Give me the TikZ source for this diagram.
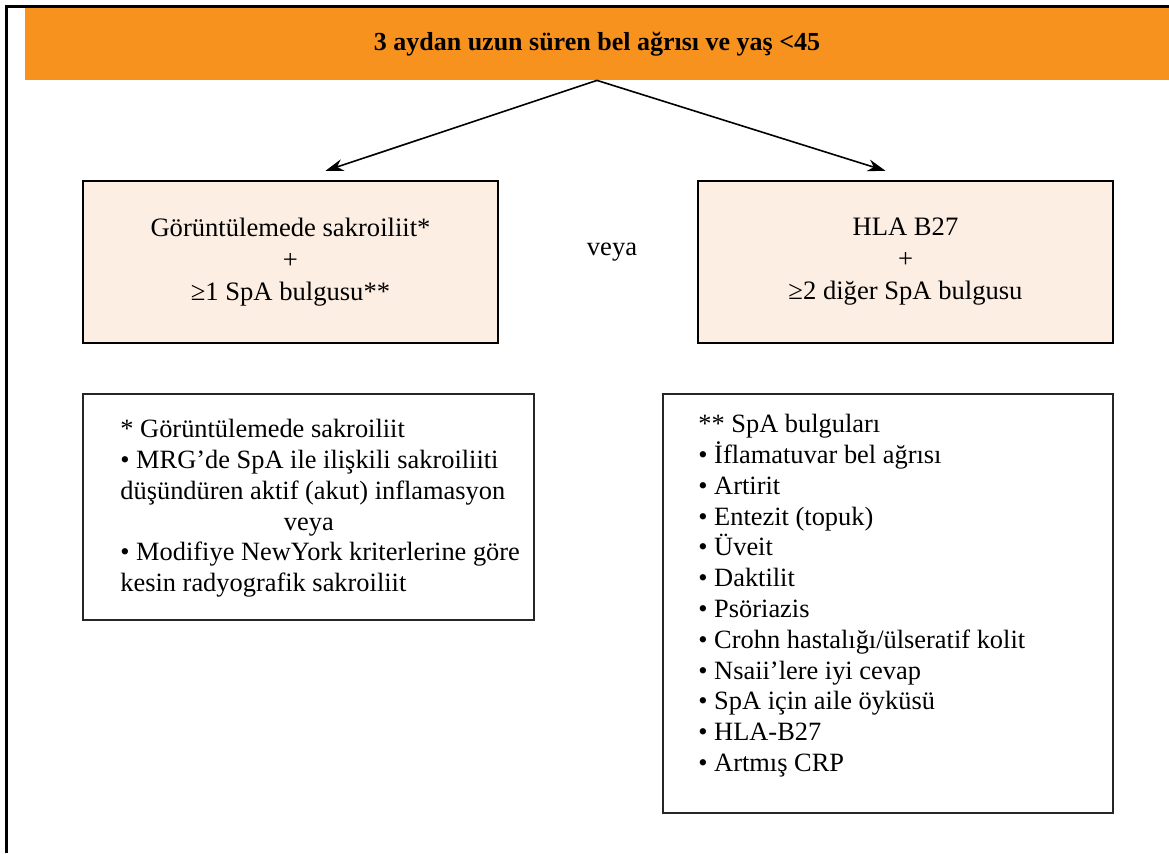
\documentclass[tikz,border=0pt]{standalone}
\usepackage{fontspec}
\setmainfont{Liberation Serif}
\usetikzlibrary{arrows.meta}

\definecolor{barorange}{HTML}{F7921E}
\definecolor{boxpeach}{HTML}{FDEEE3}

\tikzset{
	critbox/.style={draw=black, line width=1.2pt, fill=boxpeach, minimum width=207.5pt, minimum height=81pt, align=center, font=\fontsize{13.3}{16}\selectfont},
	notebox/.style={draw=black!85, line width=0.6pt},
	notetext/.style={anchor=north west, align=left, inner sep=0pt, font=\fontsize{13.2}{15.4}\selectfont},
	pointer/.style={-{Stealth[length=9pt,width=6pt]}, line width=0.8pt}
}

\begin{document}
\begin{tikzpicture}[x=0.5pt,y=-0.5pt]

	\useasboundingbox (0,0) rectangle (1169,853);
	\draw[line width=1.5pt] (6,853) -- (6,6) -- (1169,6);

	\node[fill=barorange, minimum width=572pt, minimum height=36pt, font=\bfseries\fontsize{13}{15}\selectfont] (title) at (597,44) {3 aydan uzun süren bel ağrısı ve yaş <45};

	\node[critbox] (leftbox) at (290.5,262) {Görüntülemede sakroiliit*\\+\\≥1 SpA bulgusu**};
	\node[critbox] (rightbox) at (905.5,262) {HLA B27\\+\\≥2 diğer SpA bulgusu};
	\node[font=\fontsize{13.3}{16}\selectfont] (veya) at (612,252) {veya};

	\draw[pointer] (title.south) -- ([xshift=17.5pt,yshift=4.5pt]leftbox.north);
	\draw[pointer] (title.south) -- ([xshift=-10pt,yshift=4.5pt]rightbox.north);

	% footnote boxes
	\node[notebox, minimum width=225.5pt, minimum height=113pt] (leftnote) at (308.5,507) {};
	\node[notetext] (leftlist) at (120,419) {* Görüntülemede sakroiliit\\
		• MRG’de SpA ile ilişkili sakroiliiti\\
		düşündüren aktif (akut) inflamasyon\\
		\makebox[188.5pt]{veya}\\
		• Modifiye NewYork kriterlerine göre\\
		kesin radyografik sakroiliit};

	\node[notebox, minimum width=225pt, minimum height=209.5pt] (rightnote) at (888,603.5) {};
	\node[notetext] (rightlist) at (698,414) {** SpA bulguları\\
		• İflamatuvar bel ağrısı\\
		• Artirit\\
		• Entezit (topuk)\\
		• Üveit\\
		• Daktilit\\
		• Psöriazis\\
		• Crohn hastalığı/ülseratif kolit\\
		• Nsaii’lere iyi cevap\\
		• SpA için aile öyküsü\\
		• HLA-B27\\
		• Artmış CRP};

\end{tikzpicture}
\end{document}
